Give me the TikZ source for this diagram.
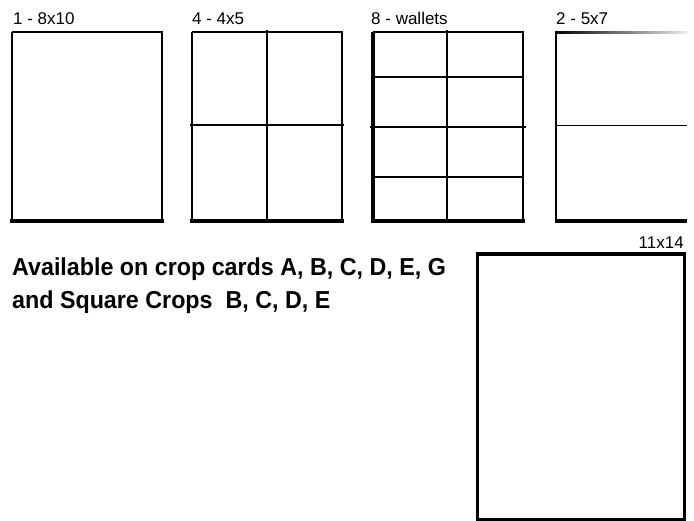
\documentclass[tikz,border=0pt]{standalone}
\usepackage{fontspec}
\setmainfont{Liberation Sans}
\newfontfamily\cropfont{Liberation Sans}[FakeStretch=0.95]
\tikzset{
  edge/.style={line width=1.8pt},
  thickedge/.style={line width=4pt},
  sizelabel/.style={font=\fontsize{17}{20}\selectfont, inner sep=0pt},
  notelabel/.style={font=\cropfont\bfseries\fontsize{24.5}{30}\selectfont, inner sep=0pt, anchor=base west}
}
\begin{document}
\begin{tikzpicture}[x=1pt, y=-1pt]
    \useasboundingbox[fill=white] (0,0) rectangle (694,520);

    % Define the corners of the sheets
    \coordinate (A1) at (12,32);
    \coordinate (B1) at (162,221);
    \coordinate (A2) at (192,32);
    \coordinate (B2) at (342,221);
    \coordinate (A3) at (373,32);
    \coordinate (B3) at (523,221);
    \coordinate (A4) at (556,32);
    \coordinate (B4) at (687,221);
    \coordinate (A5) at (477,254);
    \coordinate (B5) at (684,519);

    % Draw the 8x10 sheet
    \draw[edge] (A1) -- (12,221);
    \draw[edge] (A1) -- (162,32) -- (B1);
    \draw[thickedge] (10,221) -- (164,221);

    % Draw the 4x5 sheet
    \draw[edge] (A2) -- (192,221);
    \draw[edge] (A2) -- (342,32) -- (B2);
    \draw[edge] (267,30) -- (267,221);
    \draw[edge] (190,125) -- (344,125);
    \draw[thickedge] (190,221) -- (344,221);

    % Draw the wallets sheet
    \draw[line width=3.2pt] (A3) -- (373,221);
    \draw[edge] (A3) -- (523,32) -- (B3);
    \draw[edge] (447,30) -- (447,221);
    \draw[edge] (373,77) -- (523,77);
    \draw[edge] (370,127) -- (526,127);
    \draw[edge] (373,177) -- (523,177);
    \draw[thickedge] (371,221) -- (525,221);

    % Draw the 5x7 sheet (top edge fades out)
    \shade[left color=black, right color=gray!15] (555,31) rectangle (B4 |- 0,33);
    \draw[line width=2.2pt] (A4) -- (556,221);
    \draw[line width=1pt] (556,125) -- (687,125);
    \draw[thickedge] (555,221) -- (B4);

    % Draw the 11x14 sheet
    \draw[line width=3pt] (A5) rectangle (B5);
    \draw[thickedge] (475.5,254) -- (685.5,254);

    % Labels for the sizes
    \node[sizelabel, anchor=base west] (l8x10) at (13,24) {1 - 8x10};
    \node[sizelabel, anchor=base west] (l4x5) at (192,24) {4 - 4x5};
    \node[sizelabel, anchor=base west] (lwallet) at (371,24) {8 - wallets};
    \node[sizelabel, anchor=base west] (l5x7) at (556,24) {2 - 5x7};
    \node[sizelabel, anchor=base east] (l11x14) at (684,248) {11x14};

    % Note on crop cards
    \node[notelabel] (cards) at (12,275) {Available on crop cards A, B, C, D, E, G};
    \node[notelabel] (square) at (12,308) {and Square Crops\ \ B, C, D, E};
\end{tikzpicture}
\end{document}
